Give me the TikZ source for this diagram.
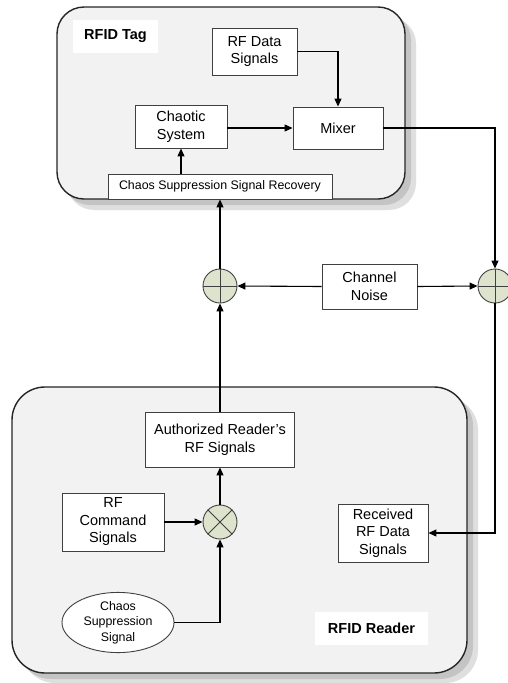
\documentclass[tikz,border=0pt]{standalone}
\usepackage{fontspec}
\setmainfont{Liberation Sans}
\usetikzlibrary{arrows.meta,shapes.geometric}
\definecolor{contfill}{HTML}{F2F2F2}
\definecolor{shadowc}{HTML}{C4C4C4}
\definecolor{sumfill}{HTML}{DDE3CC}
\definecolor{boxline}{HTML}{404040}
\tikzset{
  blk/.style={draw=boxline, line width=0.9pt, fill=white, align=center, inner sep=0pt,
    font=\fontsize{14.5}{17.5}\selectfont},
  op/.style={circle, draw=boxline, line width=0.9pt, fill=sumfill, minimum size=34pt, inner sep=0pt},
  conn/.style={line width=1.1pt, -{Triangle[length=8pt,width=7pt]}},
  cont/.style={draw=black!85, line width=1.4pt, fill=contfill},
  lbl/.style={fill=white, font=\bfseries\fontsize{14.5}{17}\selectfont, inner sep=0pt}
}
\begin{document}
\begin{tikzpicture}[x=1pt,y=-1pt]
\useasboundingbox[fill=white] (0,0) rectangle (507,683);
% shadows
\fill[shadowc!55, rounded corners=27pt] (67,17) rectangle (416,210);
\fill[shadowc, rounded corners=27pt] (63,13) rectangle (411,205);
\fill[shadowc!55, rounded corners=33pt] (22,397) rectangle (478,683);
\fill[shadowc, rounded corners=33pt] (18,393) rectangle (473,679);
% containers
\draw[cont, rounded corners=27pt] (57,7) rectangle (405,199);
\draw[cont, rounded corners=33pt] (12,387) rectangle (467,673);
% labels
\node[lbl, minimum width=85pt, minimum height=33pt] (taglbl) at (115.5,36.5) {RFID Tag};
\node[lbl, minimum width=113pt, minimum height=33pt] (readerlbl) at (371.5,628.5) {RFID Reader};
% tag blocks
\node[blk, minimum width=85pt, minimum height=47pt] (rfdata) at (254.5,51.5) {RF Data\\Signals};
\node[blk, minimum width=92pt, minimum height=43pt] (chaotic) at (181,126.5) {Chaotic\\System};
\node[blk, minimum width=90pt, minimum height=42pt] (mixer) at (338,128) {Mixer};
\node[blk, minimum width=224pt, minimum height=25pt, font=\fontsize{12.4}{14}\selectfont] (cssr) at (220,186.5) {Chaos Suppression Signal Recovery};
% channel
\node[op] (addL) at (220,286) {};
\node[op] (addR) at (495,286) {};
\draw[line width=0.9pt, boxline] (addL.north) -- (addL.south) (addL.west) -- (addL.east);
\draw[line width=0.9pt, boxline] (addR.north) -- (addR.south) (addR.west) -- (addR.east);
\node[blk, minimum width=95pt, minimum height=45pt] (noise) at (369.5,286.5) {Channel\\Noise};
% reader blocks
\node[blk, minimum width=149pt, minimum height=55pt] (auth) at (220,439.5) {Authorized Reader's\\RF Signals};
\node[blk, minimum width=102pt, minimum height=58pt] (cmd) at (113,522) {RF\\Command\\Signals};
\node[op] (mult) at (220,522) {};
\draw[line width=0.9pt, boxline] (mult.north east) -- (mult.south west) (mult.north west) -- (mult.south east);
\node[ellipse, draw=boxline, line width=0.9pt, fill=white, minimum width=112pt, minimum height=55pt, inner sep=0pt, align=center, font=\fontsize{12.4}{15.5}\selectfont] (css) at (118,622.5) {Chaos\\Suppression\\Signal};
\node[blk, minimum width=90pt, minimum height=58pt] (recv) at (383,533) {Received\\RF Data\\Signals};
% connectors
\draw[conn] (rfdata.east) -| (mixer.north);
\draw[conn] (chaotic.east |- mixer.west) -- (mixer.west);
\draw[conn] (chaotic.south |- cssr.north) -- (chaotic.south);
\draw[conn] (mixer.east) -| (addR.north);
\draw[conn] (noise.west) -- (addL.east);
\draw[conn] (noise.east) -- (addR.west);
\draw[conn] (addL.north) -- (addL.north |- cssr.south);
\draw[conn] (auth.north) -- (addL.south);
\draw[conn] (addR.south) |- (recv.east);
\draw[conn] (mult.north) -- (auth.south);
\draw[conn] (cmd.east) -- (mult.west);
\draw[conn] (css.east) -| (mult.south);
\end{tikzpicture}
\end{document}
